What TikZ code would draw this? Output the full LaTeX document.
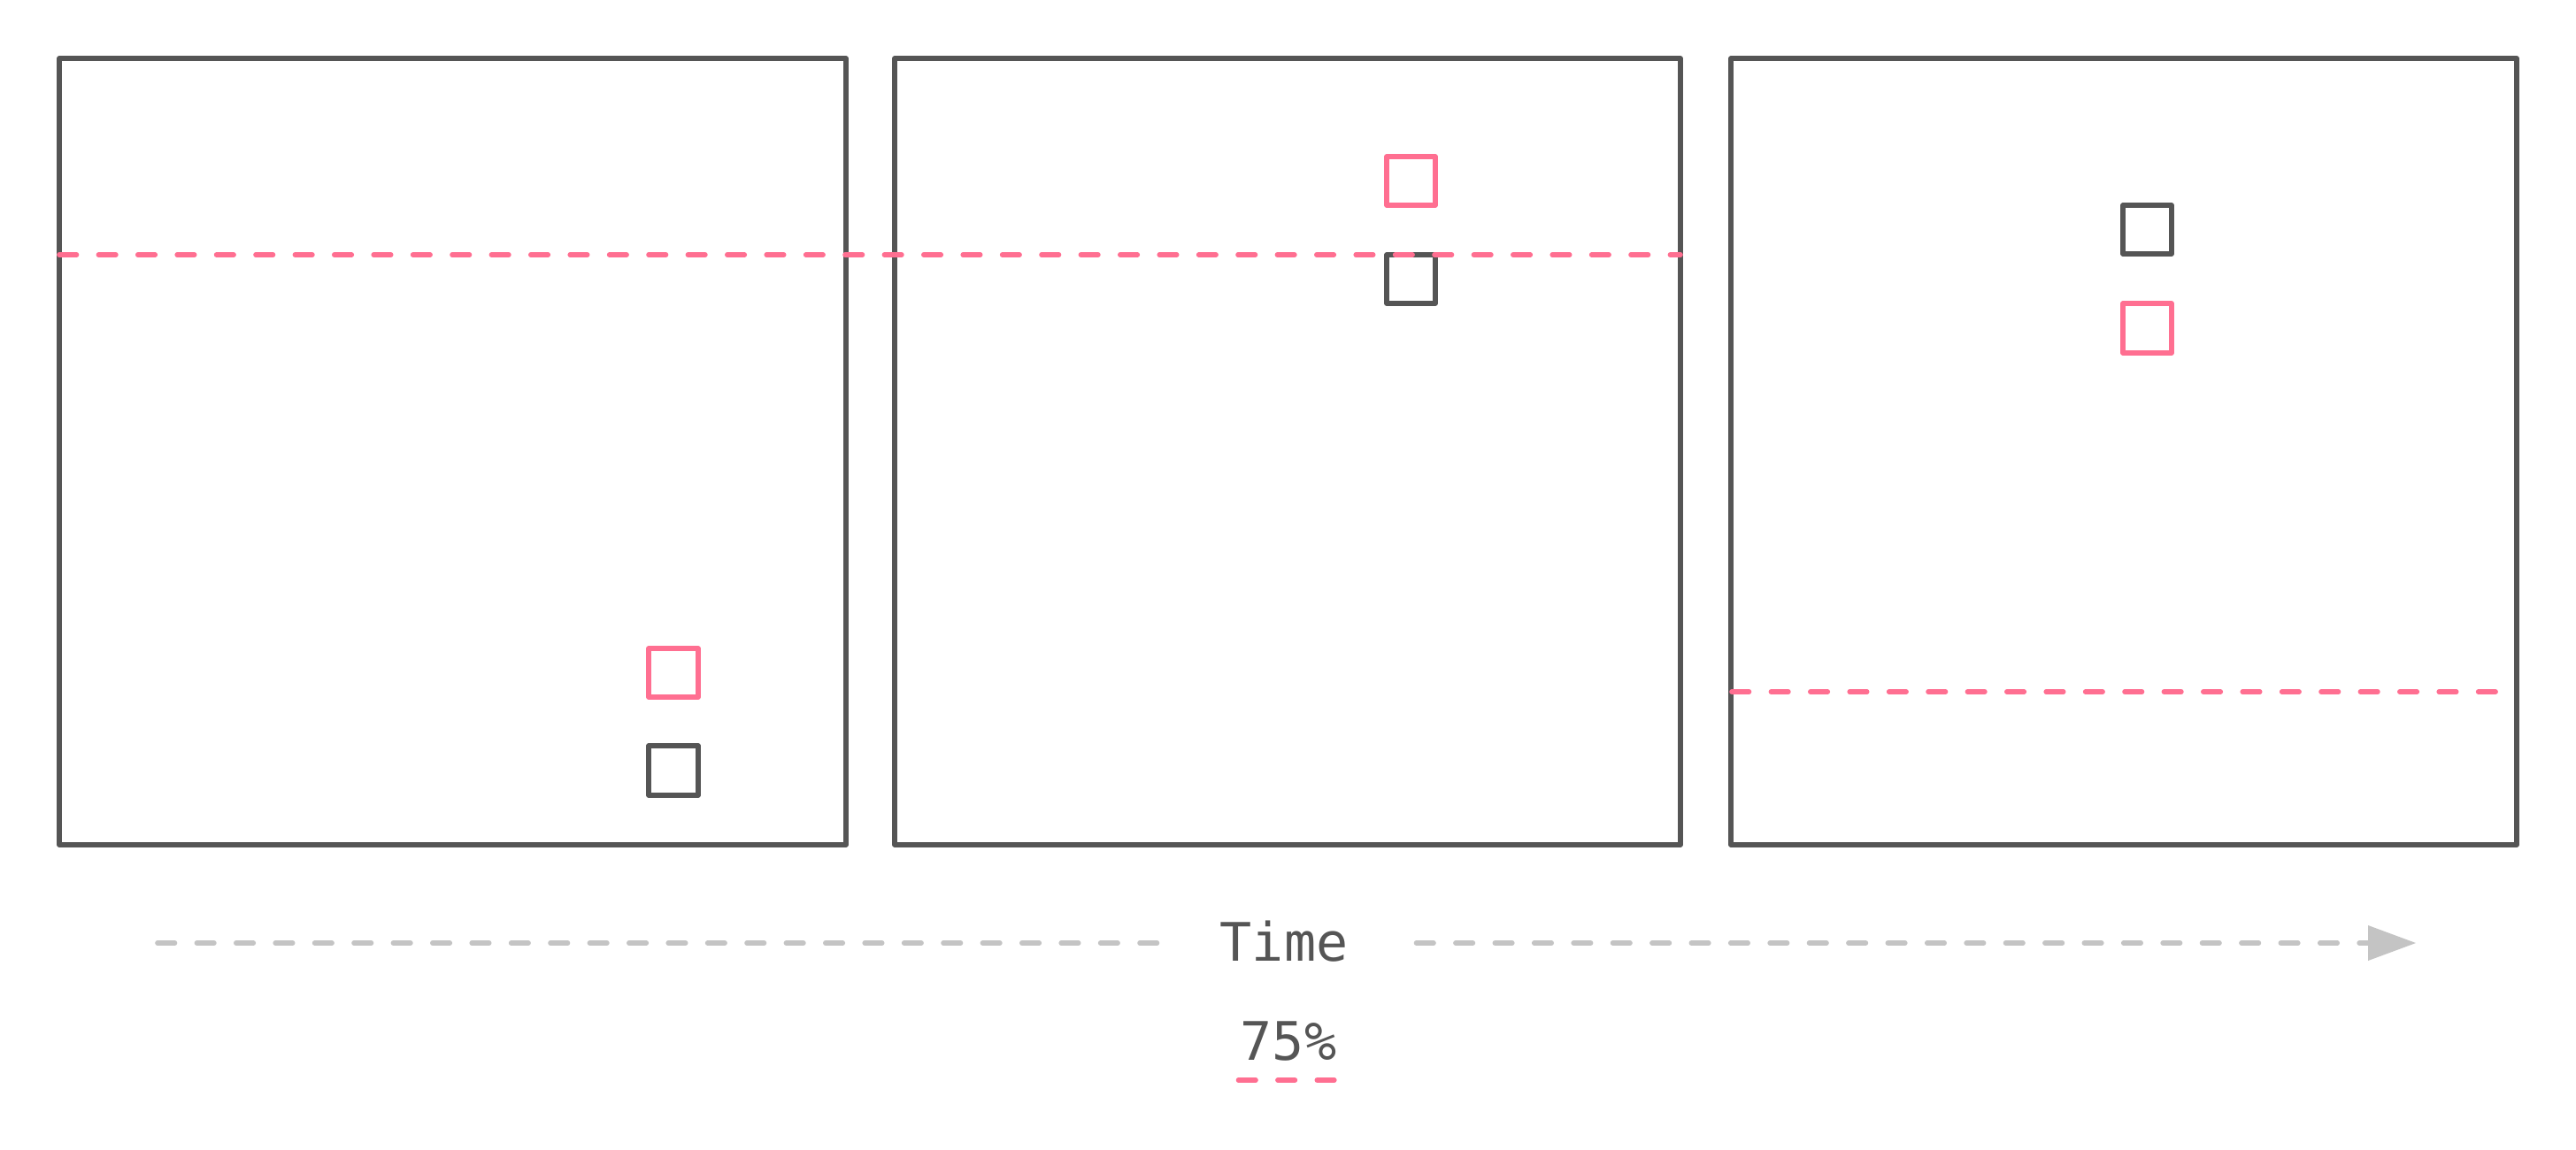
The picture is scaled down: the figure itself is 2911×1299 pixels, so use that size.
\documentclass[tikz,border=0pt]{standalone}
\usepackage{fontspec}
\setmonofont{DejaVu Sans Mono}
\definecolor{darkline}{HTML}{555555}
\definecolor{pinkline}{HTML}{FF6F91}
\definecolor{lightline}{HTML}{C4C4C4}
\tikzset{
  panel/.style={draw=darkline, line width=5.6pt, line join=round},
  graysq/.style={draw=darkline, line width=5.6pt, line join=round},
  pinksq/.style={draw=pinkline, line width=5.6pt, line join=round},
  pinkdash/.style={draw=pinkline, line width=5.6pt, line cap=round, dash pattern=on 19.5pt off 24.9pt},
  graydash/.style={draw=lightline, line width=5.6pt, line cap=round, dash pattern=on 19.5pt off 24.9pt},
  label/.style={font=\ttfamily\fontsize{60}{72}\selectfont, text=darkline, inner sep=0pt, anchor=base}
}
\begin{document}
\begin{tikzpicture}[x=1pt,y=-1pt]
\useasboundingbox (0,0) rectangle (2911,1299);
% panels
\draw[panel] (67,66) rectangle (956,955);
\draw[panel] (1011,66) rectangle (1899,955);
\draw[panel] (1956,66) rectangle (2844,955);
% panel 1
\draw[pinksq] (733,733) rectangle (789,788);
\draw[graysq] (733,843) rectangle (789,899);
% panel 2
\draw[pinksq] (1567,177) rectangle (1622,232);
\draw[graysq] (1567,288) rectangle (1622,343);
% panel 3
\draw[graysq] (2399,232) rectangle (2454,287);
\draw[pinksq] (2399,343) rectangle (2454,399);
% dashed thresholds
\draw[pinkdash] (67,288) -- (1899,288);
\draw[pinkdash] (1957,782) -- (2834,782);
% time axis
\coordinate (axL) at (178,1066);
\coordinate (axLe) at (1308,1066);
\coordinate (axR) at (1600.5,1066);
\coordinate (axRe) at (2677,1066);
\draw[graydash] (axL) -- (axLe);
\draw[graydash] (axR) -- (axRe);
\fill[lightline] (2676,1046) -- (2730,1066) -- (2676,1086) -- cycle;
\node[label] (time) at (1451,1086) {Time};
\node[label] (pct) at (1456,1198) {75\%};
\draw[pinkdash] (1399.5,1221) -- (1510.5,1221);
\end{tikzpicture}
\end{document}
